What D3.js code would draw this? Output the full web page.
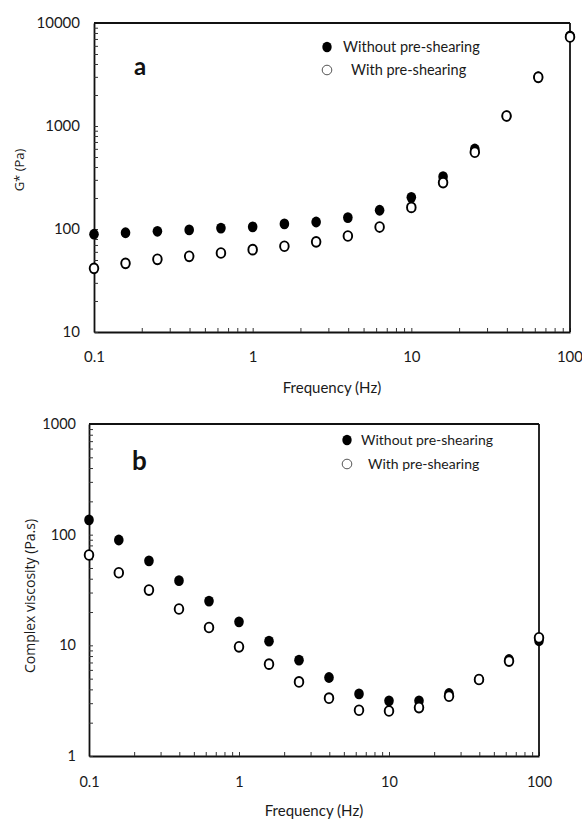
<!DOCTYPE html>
<html><head><meta charset="utf-8">
<script src="https://cdn.jsdelivr.net/npm/d3@7"></script>
<style>body{margin:0;background:#fff}svg{display:block}</style>
</head><body><svg id="c" width="582" height="820"></svg>
<script>
const frequency = [0.1, 0.158, 0.251, 0.398, 0.631, 1, 1.585, 2.512, 3.981, 6.31, 10, 15.85, 25.12, 39.81, 63.1, 100];
const gStarWithout = [89, 92, 95, 98, 102, 105, 112, 117, 129, 152, 203, 322, 598, 1250, 3010, 7480];
const gStarWith = [41.5, 46.4, 50.8, 54.3, 58.5, 63, 68, 75, 85.5, 104.5, 162, 282, 556, 1250, 2970, 7320];
const viscWithout = [136, 89.5, 58, 38.4, 25.1, 16.3, 10.9, 7.35, 5.12, 3.64, 3.15, 3.15, 3.67, 4.91, 7.45, 11.0];
const viscWith = [65.5, 45.3, 31.6, 21.3, 14.5, 9.7, 6.76, 4.67, 3.33, 2.59, 2.55, 2.74, 3.47, 4.91, 7.2, 11.7];
const xTickValues = [0.1, 1, 10, 100];
const xTickLabels = ["0.1", "1", "10", "100"];
const yTickValuesA = [10, 100, 1000, 10000];
const yTickLabelsA = ["10", "100", "1000", "10000"];
const yTickValuesB = [1, 10, 100, 1000];
const yTickLabelsB = ["1", "10", "100", "1000"];
const seriesNames = ["Without pre-shearing", "With pre-shearing"];
const panelLetters = ["a", "b"];
const yTitles = ["G* (Pa)", "Complex viscosity (Pa.s)"];
const xTitle = "Frequency (Hz)";

const svg = d3.select("#c");
svg.append("rect").attr("width", 582).attr("height", 820).attr("fill", "#fff");
const FONT = "Lato, 'Open Sans', sans-serif";

function drawPanel(cfg) {
  const x = d3.scaleLog().domain([0.1, 100]).range([cfg.left, cfg.right]);
  const y = d3.scaleLog().domain(cfg.yDomain).range([cfg.bottom, cfg.top]);
  const g = svg.append("g");

  const xAll = x.ticks();
  const xAxis = d3.axisBottom(x).tickValues(xAll).tickSize(-4).tickSizeOuter(0).tickPadding(cfg.xPad)
    .tickFormat(d => { const i = xTickValues.findIndex(v => Math.abs(v - d) / v < 1e-6); return i >= 0 ? xTickLabels[i] : ""; });
  const gx = g.append("g").attr("transform", `translate(0,${cfg.bottom})`).call(xAxis);
  const yAll = y.ticks();
  const yAxis = d3.axisLeft(y).tickValues(yAll).tickSize(-4).tickSizeOuter(0).tickPadding(cfg.yPad)
    .tickFormat(d => { const i = cfg.yTickValues.findIndex(v => Math.abs(v - d) / v < 1e-6); return i >= 0 ? cfg.yTickLabels[i] : ""; });
  const gy = g.append("g").attr("transform", `translate(${cfg.left},0)`).call(yAxis);
  [gx, gy].forEach(a => {
    a.select(".domain").attr("stroke", "#111").attr("stroke-width", 1.8);
    a.selectAll(".tick line").attr("stroke", "#333").attr("stroke-width", 1);
    a.selectAll(".tick text").attr("fill", "#1a1a1a").style("font-family", FONT).style("font-size", cfg.tickFont + "px");
  });
  // keep the last x label inside the picture
  gx.selectAll(".tick text").filter(d => Math.abs(d - 100) < 1e-6 && x(d) > 560).attr("text-anchor", "end").attr("dx", "12.5");

  // top & right borders
  g.append("line").attr("x1", cfg.left).attr("x2", cfg.right).attr("y1", cfg.top).attr("y2", cfg.top).attr("stroke", "#111").attr("stroke-width", 1.8);
  g.append("line").attr("x1", cfg.right).attr("x2", cfg.right).attr("y1", cfg.top).attr("y2", cfg.bottom).attr("stroke", "#111").attr("stroke-width", 1.8);

  // titles
  g.append("text").attr("x", (cfg.left + cfg.right) / 2).attr("y", cfg.xTitleY).attr("text-anchor", "middle")
    .attr("dy", "0.35em").style("font-family", FONT).style("font-size", "15px").attr("fill", "#1a1a1a").text(xTitle);
  g.append("text").attr("transform", `translate(${cfg.yTitleX},${cfg.yTitleY}) rotate(-90)`).attr("text-anchor", "middle")
    .attr("dy", "0.35em").style("font-family", "'Open Sans', sans-serif").style("font-size", cfg.yTitleFont + "px").attr("fill", "#1a1a1a").text(cfg.yTitle);
  g.append("text").attr("x", cfg.letterX).attr("y", cfg.letterY).style("font-family", FONT).style("font-weight", "bold")
    .style("font-size", cfg.letterFont + "px").attr("fill", "#111").text(cfg.letter);

  // data
  const pts = (vals) => frequency.map((f, i) => ({ f, v: vals[i] }));
  g.append("g").selectAll("ellipse").data(pts(cfg.filled)).join("ellipse")
    .attr("cx", d => x(d.f)).attr("cy", d => y(d.v)).attr("rx", 4.8).attr("ry", 5.4).attr("fill", "#000");
  g.append("g").selectAll("ellipse").data(pts(cfg.open)).join("ellipse")
    .attr("cx", d => x(d.f)).attr("cy", d => y(d.v)).attr("rx", 4.3).attr("ry", 4.9).attr("fill", "#fff")
    .attr("stroke", "#000").attr("stroke-width", 1.9);

  // legend
  const lg = g.append("g");
  lg.append("ellipse").attr("cx", cfg.legX).attr("cy", cfg.legY1).attr("rx", 4.7).attr("ry", 5.2).attr("fill", "#000");
  lg.append("circle").attr("cx", cfg.legX).attr("cy", cfg.legY2).attr("r", 4.8).attr("fill", "#fff").attr("stroke", "#555").attr("stroke-width", 1);
  lg.append("text").attr("x", cfg.legT1).attr("y", cfg.legY1).attr("dy", "0.35em").style("font-family", FONT)
    .style("font-size", cfg.legFont + "px").attr("fill", "#1a1a1a").text(seriesNames[0]);
  lg.append("text").attr("x", cfg.legT2).attr("y", cfg.legY2).attr("dy", "0.35em").style("font-family", FONT)
    .style("font-size", cfg.legFont + "px").attr("fill", "#1a1a1a").text(seriesNames[1]);
}

drawPanel({
  left: 94, right: 570, top: 23, bottom: 332, yDomain: [10, 10000],
  yTickValues: yTickValuesA, yTickLabels: yTickLabelsA, xPad: 19, yPad: 14, tickFont: 15,
  xTitleY: 388, yTitleX: 19, yTitleY: 170, yTitleFont: 13, yTitle: yTitles[0],
  letter: panelLetters[0], letterX: 134, letterY: 75, letterFont: 24,
  filled: gStarWithout, open: gStarWith,
  legX: 327, legY1: 47, legY2: 70, legT1: 343, legT2: 351, legFont: 14.5
});
drawPanel({
  left: 89, right: 539, top: 424, bottom: 756, yDomain: [1, 1000],
  yTickValues: yTickValuesB, yTickLabels: yTickLabelsB, xPad: 21, yPad: 13, tickFont: 14.5,
  xTitleY: 811, yTitleX: 30, yTitleY: 596, yTitleFont: 14, yTitle: yTitles[1],
  letter: panelLetters[1], letterX: 132, letterY: 470, letterFont: 26,
  filled: viscWithout, open: viscWith,
  legX: 347, legY1: 440, legY2: 464, legT1: 361, legT2: 368, legFont: 14
});
</script>
</body></html>
